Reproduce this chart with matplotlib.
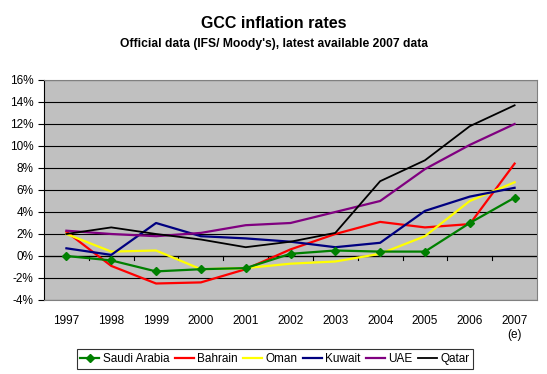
import matplotlib
matplotlib.use('Agg')
import matplotlib.pyplot as plt
import numpy as np

plt.rcParams['font.family'] = ['Liberation Sans', 'DejaVu Sans']

years = ['1997', '1998', '1999', '2000', '2001', '2002', '2003', '2004', '2005', '2006', '2007\n(e)']

saudi = [0.0, -0.4, -1.4, -1.2, -1.1, 0.2, 0.5, 0.4, 0.4, 3.0, 5.3]
bahrain = [2.2, -0.9, -2.5, -2.4, -1.2, 0.6, 2.0, 3.1, 2.6, 2.9, 8.4]
oman = [2.0, 0.4, 0.5, -1.2, -1.1, -0.7, -0.5, 0.2, 1.8, 5.0, 6.7]
kuwait = [0.7, 0.1, 3.0, 1.8, 1.6, 1.3, 0.8, 1.2, 4.1, 5.4, 6.2]
uae = [2.3, 2.0, 1.8, 2.1, 2.8, 3.0, 4.0, 5.0, 7.9, 10.1, 12.0]
qatar = [2.0, 2.6, 2.0, 1.5, 0.8, 1.3, 2.1, 6.8, 8.7, 11.8, 13.7]

yticks = [-4, -2, 0, 2, 4, 6, 8, 10, 12, 14, 16]

fig = plt.figure(figsize=(5.47, 3.74), dpi=100)
ax = fig.add_axes([44/547, 1-300/374, (537-44)/547, (300-80)/374])
ax.set_facecolor('#C0C0C0')

x = np.arange(len(years))
ax.plot(x, saudi, color='#008000', lw=1.6, marker='D', ms=4.5, label='Saudi Arabia', zorder=5)
ax.plot(x, bahrain, color='#FF0000', lw=1.6, label='Bahrain', zorder=4)
ax.plot(x, oman, color='#FFFF00', lw=1.6, label='Oman', zorder=4)
ax.plot(x, kuwait, color='#000080', lw=1.6, label='Kuwait', zorder=4)
ax.plot(x, uae, color='#800080', lw=1.6, label='UAE', zorder=4)
ax.plot(x, qatar, color='#000000', lw=1.3, label='Qatar', zorder=4)

ax.set_xlim(-0.5, len(years) - 0.5)
ax.set_ylim(-4, 16)
ax.set_yticks(yticks)
ax.set_yticklabels([f'{v}%' for v in yticks], fontsize=8.5)
ax.set_xticks(x)
ax.set_xticklabels(years, fontsize=8.5)
ax.tick_params(axis='x', length=0, pad=11)
ax.tick_params(axis='y', length=4, width=0.8, color='#000000')
ax.grid(axis='y', color='#000000', lw=0.8)
ax.set_axisbelow(True)
for s in ['top', 'right', 'bottom']:
    ax.spines[s].set_color('#808080')
ax.spines['left'].set_color('#000000')

# category axis line at zero with tick marks between categories
ax.axhline(0, color='#000000', lw=0.9, zorder=2)
for b in x[:-1] + 0.5:
    ax.plot([b, b], [0, -0.35], color='#000000', lw=0.8, zorder=2, clip_on=False)

fig.text(0.5, 1-24/374, 'GCC inflation rates', ha='center', va='center', fontsize=11.5, fontweight='bold')
fig.text(0.5, 1-44/374, "Official data (IFS/ Moody's), latest available 2007 data", ha='center', va='center', fontsize=8.7, fontweight='bold')

leg = fig.legend(loc='center', bbox_to_anchor=(275/547, 1-359/374), ncol=6, fontsize=8.5,
                 frameon=True, fancybox=False, edgecolor='#000000', handlelength=1.6,
                 handletextpad=0.3, columnspacing=0.45, borderpad=0.3)
leg.get_frame().set_linewidth(0.8)

fig.savefig('out.png', dpi=100)
